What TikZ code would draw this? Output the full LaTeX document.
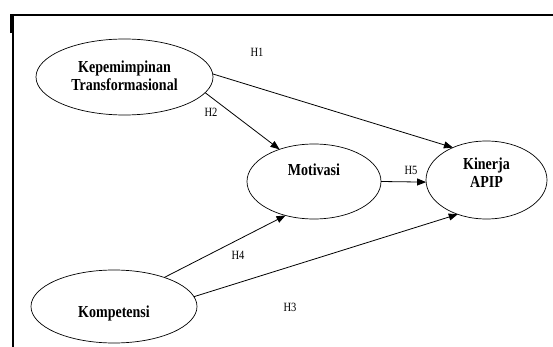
\documentclass[tikz,border=0pt]{standalone}
\usepackage{fontspec}
\setmainfont{Liberation Serif}
\usetikzlibrary{arrows.meta,shapes.geometric}
\newcommand{\tallt}[1]{\scalebox{1}[1.2]{#1}}
\begin{document}
\begin{tikzpicture}[x=1pt,y=-1pt,
  ell/.style={draw,ellipse,inner sep=0pt,outer sep=0pt,line width=0.7pt},
  lbl/.style={font=\fontsize{14}{16}\selectfont\bfseries,align=center,inner sep=0pt},
  hyp/.style={font=\fontsize{10.5}{12}\selectfont,inner sep=0pt},
  arr/.style={-{Triangle[length=9pt,width=7pt]},line width=0.8pt}]
\useasboundingbox (0,0) rectangle (553,347);
\fill[white] (0,0) rectangle (553,347);
% frame
\draw[line width=2.5pt] (13,347) -- (13,15) -- (553,15);
\fill[black] (9.5,14) rectangle (12,33);
% ellipses
\node[ell,minimum width=177pt,minimum height=76pt] (kep) at (124.5,77) {};
\node[ell,minimum width=134pt,minimum height=75pt] (mot) at (314,181.5) {};
\node[ell,minimum width=121pt,minimum height=78pt] (kin) at (486.5,180) {};
\node[ell,minimum width=166pt,minimum height=73pt] (kom) at (114,306.5) {};
% texts
\node[lbl] (tkep) at (124.5,76) {\tallt{Kepemimpinan}\\[2pt]\tallt{Transformasional}};
\node[lbl] (tmot) at (314,170) {\tallt{Motivasi}};
\node[lbl] (tkin) at (486.5,173) {\tallt{Kinerja}\\[2pt]\tallt{APIP}};
\node[lbl] (tkom) at (114,313) {\tallt{Kompetensi}};
% connectors
\draw[arr] (kep.2) -- (kin.136);
\draw[arr] (kep.349) -- (mot.137);
\draw[arr] (mot.0) -- (kin.182);
\draw[arr] (kom.30) -- (mot.230);
\draw[arr] (kom.7) -- (kin.230);
% hypothesis labels
\node[hyp] (h1) at (257,52) {\tallt{H1}};
\node[hyp] (h2) at (211,112) {\tallt{H2}};
\node[hyp] (h3) at (290,307) {\tallt{H3}};
\node[hyp] (h4) at (238,255) {\tallt{H4}};
\node[hyp] (h5) at (411,170) {\tallt{H5}};
\end{tikzpicture}
\end{document}
